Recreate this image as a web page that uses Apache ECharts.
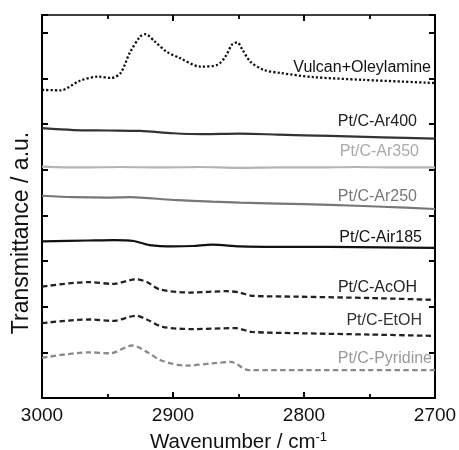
<!DOCTYPE html>
<html><head><meta charset="utf-8">
<script src="https://cdn.jsdelivr.net/npm/echarts@6/dist/echarts.min.js"></script>
<style>html,body{margin:0;padding:0;background:#fff}#c{width:459px;height:450px}</style>
</head><body><div id="c"></div>
<script>
// ---- data (wavenumber in cm-1, transmittance in arbitrary offset units) ----
const xTicks = [3000, 2900, 2800, 2700];

const wnVulcan = [3000, 2986, 2971, 2957, 2947, 2940, 2933, 2925, 2921, 2914, 2905, 2895, 2879, 2866, 2860, 2855, 2851, 2847, 2841, 2831, 2818, 2793, 2755, 2700];
const vulcan   = [6.75, 6.74, 6.95, 7.04, 7.01, 7.12, 7.56, 7.92, 7.97, 7.81, 7.59, 7.45, 7.26, 7.30, 7.48, 7.74, 7.79, 7.63, 7.37, 7.19, 7.12, 7.03, 6.97, 6.90];

const wnAr400 = [3000, 2976, 2950, 2925, 2900, 2877, 2849, 2820, 2780, 2740, 2700];
const ar400   = [5.91, 5.87, 5.86, 5.85, 5.80, 5.78, 5.79, 5.77, 5.74, 5.71, 5.68];

const wnAr350 = [3000, 2970, 2940, 2910, 2880, 2850, 2820, 2790, 2760, 2730, 2700];
const ar350   = [5.07, 5.05, 5.06, 5.05, 5.06, 5.04, 5.05, 5.05, 5.06, 5.05, 5.05];

const wnAr250 = [3000, 2976, 2950, 2933, 2900, 2870, 2849, 2820, 2780, 2740, 2700];
const ar250   = [4.43, 4.40, 4.39, 4.40, 4.34, 4.30, 4.28, 4.26, 4.23, 4.19, 4.14];

const wnAir185 = [3000, 2965, 2945, 2930, 2918, 2900, 2885, 2870, 2849, 2820, 2780, 2740, 2700];
const air185   = [3.43, 3.45, 3.46, 3.44, 3.35, 3.32, 3.33, 3.36, 3.32, 3.31, 3.31, 3.30, 3.29];

const wnAcOH = [3000, 2964, 2946, 2928, 2920, 2910, 2887, 2859, 2849, 2840, 2805, 2750, 2700];
const acoh   = [2.44, 2.54, 2.50, 2.60, 2.54, 2.38, 2.31, 2.34, 2.31, 2.24, 2.22, 2.19, 2.15];

const wnEtOH = [3000, 2964, 2946, 2928, 2920, 2908, 2885, 2852, 2840, 2805, 2750, 2700];
const etoh   = [1.64, 1.72, 1.69, 1.80, 1.72, 1.56, 1.51, 1.53, 1.45, 1.42, 1.39, 1.36];

const wnPyr = [3000, 2964, 2948, 2931, 2920, 2908, 2889, 2870, 2856, 2842, 2800, 2750, 2700];
const pyr   = [0.88, 1.00, 0.98, 1.15, 1.01, 0.81, 0.71, 0.76, 0.79, 0.61, 0.61, 0.61, 0.61];

const seriesNames = ['Vulcan+Oleylamine', 'Pt/C-Ar400', 'Pt/C-Ar350', 'Pt/C-Ar250', 'Pt/C-Air185', 'Pt/C-AcOH', 'Pt/C-EtOH', 'Pt/C-Pyridine'];

// ---- styling / layout ----
const FONT = "'Liberation Sans', Arial, sans-serif";
const styles = [
  {color:'#111', width:2.3, type:[2.2, 2.1], label:'#111'},
  {color:'#333', width:2.2, type:'solid', label:'#222'},
  {color:'#b4b4b4', width:2.2, type:'solid', label:'#aaa'},
  {color:'#777', width:2.2, type:'solid', label:'#777'},
  {color:'#111', width:2.2, type:'solid', label:'#111'},
  {color:'#222', width:2.3, type:[5.5, 3.3], label:'#222'},
  {color:'#222', width:2.3, type:[5.5, 3.3], label:'#333'},
  {color:'#8a8a8a', width:2.3, type:[5.5, 3.3], label:'#999'}
];
const labelPos = [[431, 68], [417, 122], [419, 152], [417, 197], [422, 238], [417, 288], [422, 321], [432, 359]];

const xs = [wnVulcan, wnAr400, wnAr350, wnAr250, wnAir185, wnAcOH, wnEtOH, wnPyr];
const ys = [vulcan, ar400, ar350, ar250, air185, acoh, etoh, pyr];

const series = seriesNames.map((n, i) => ({
  name: n, type: 'line', xAxisIndex: 0, yAxisIndex: 0,
  data: xs[i].map((x, j) => [x, ys[i][j]]),
  showSymbol: false, smooth: 0.3,
  lineStyle: {color: styles[i].color, width: styles[i].width, type: styles[i].type}
}));

const xBase = {
  type: 'value', inverse: true, min: 2700, max: 3000, interval: 100,
  axisLine: {show: true, onZero: false, lineStyle: {color: '#000', width: 2}},
  axisTick: {show: true, inside: true, length: 6, lineStyle: {color: '#000', width: 2}},
  minorTick: {show: true, splitNumber: 2, length: 4, lineStyle: {color: '#000', width: 1.8}},
  splitLine: {show: false}, minorSplitLine: {show: false}
};
const yBase = {
  type: 'value', min: 0, max: 8.39, interval: 1,
  axisLine: {show: true, onZero: false, lineStyle: {color: '#000', width: 2}},
  axisTick: {show: true, inside: true, length: 6, lineStyle: {color: '#000', width: 2}},
  axisLabel: {show: false}, splitLine: {show: false}
};

const chart = echarts.init(document.getElementById('c'), null, {renderer: 'canvas'});
chart.setOption({
  animation: false,
  backgroundColor: '#fff',
  grid: {left: 42, top: 15, right: 24, bottom: 52, containLabel: false, outerBoundsMode: 'none'},
  xAxis: [
    Object.assign({}, xBase, {
      position: 'bottom',
      axisLabel: {show: true, margin: 8, fontSize: 19, color: '#111', fontFamily: FONT,
        formatter: v => xTicks.includes(v) ? String(v) : ''},
      name: 'Wavenumber / cm{sup|-1}', nameLocation: 'middle', nameGap: 33,
      nameTextStyle: {fontSize: 20.5, color: '#111', fontFamily: FONT,
        rich: {sup: {fontSize: 13, color: '#111', fontFamily: FONT, verticalAlign: 'top', padding: [0, 0, 9, 0]}}}
    }),
    Object.assign({}, xBase, {position: 'top', axisLabel: {show: false},
      axisLine: {show: true, onZero: false, lineStyle: {color: '#000', width: 1.5}}})
  ],
  yAxis: [
    Object.assign({}, yBase, {position: 'left'}),
    Object.assign({}, yBase, {position: 'right'})
  ],
  series: series,
  graphic: [
    {type: 'text', x: 22, y: 233, rotation: Math.PI / 2,
      style: {text: 'Transmittance / a.u.', fontSize: 23, fontFamily: FONT, fill: '#111',
        textAlign: 'center', textVerticalAlign: 'middle'}}
  ].concat(seriesNames.map((n, i) => ({
    type: 'text', x: labelPos[i][0], y: labelPos[i][1], z: 100,
    style: {text: n, fontSize: 16, fontFamily: FONT, fill: styles[i].label,
      textAlign: 'right', textVerticalAlign: 'middle'}
  })))
});
</script></body></html>
